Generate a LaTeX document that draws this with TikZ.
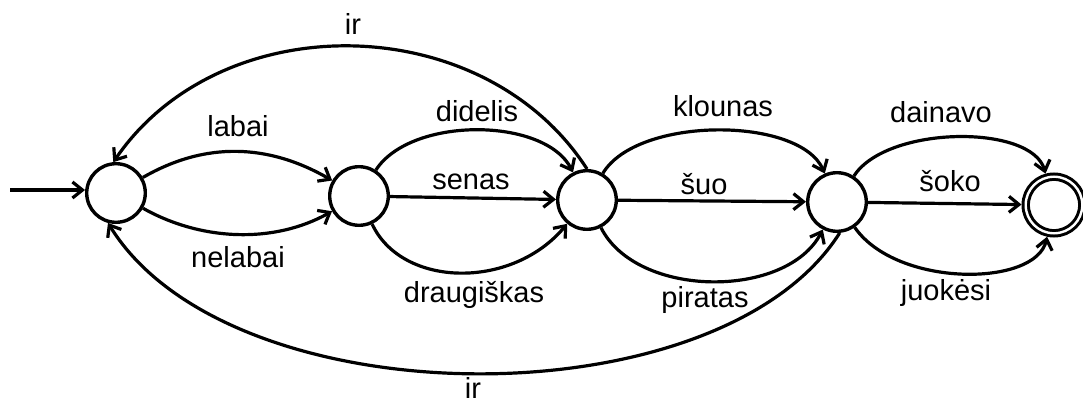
\documentclass[tikz,border=0pt]{standalone}
\usepackage{fontspec}
\setmainfont{Liberation Sans}
\usetikzlibrary{arrows.meta}
\begin{document}
\begin{tikzpicture}[x=1pt,y=-1pt,
  stnode/.style={draw, circle, line width=3.4pt, minimum size=58.6pt, inner sep=0pt},
  finalnode/.style={draw, circle, line width=3pt, double, double distance=2.4pt,
    minimum size=56.6pt, inner sep=0pt, outer sep=4.2pt},
  edge/.style={draw, line width=3.2pt, -{Straight Barb[length=10pt,width=16pt]}},
  lbl/.style={anchor=base, inner sep=0pt, font=\fontsize{29}{32}\selectfont}
]
\useasboundingbox (0,0) rectangle (1083,403);

% states
\node[stnode] (n1) at (116,193) {};
\node[stnode] (n2) at (359,196) {};
\node[stnode] (n3) at (587,200) {};
\node[stnode] (n4) at (837,202) {};
\node[finalnode] (n5) at (1054,205) {};
\coordinate (s) at (10,190);

% initial arrow
\draw[edge] (s) -- (s -| n1.west);

% n1 -> n2
\draw[edge] (n1) .. controls +(90,-52) and +(-90,-52) .. (n2);
\draw[edge] (n1) .. controls +(85,48) and +(-85,48) .. (n2);

% n2 -> n3
\draw[edge] (n2) .. controls +(52,-80) and +(-42,-83) .. (n3);
\draw[edge] (n2) -- (n3);
\draw[edge] (n2) .. controls +(43,92) and +(-75,90) .. (n3);

% n3 -> n4
\draw[edge] (n3) .. controls +(50,-84) and +(-37,-86) .. (n4);
\draw[edge] (n3) -- (n4);
\draw[edge] (n3) .. controls +(50,99) and +(-50,97) .. (n4);

% n4 -> n5
\draw[edge] (n4) .. controls +(50,-77) and +(-22,-81) .. (n5);
\draw[edge] (n4) -- (n5);
\draw[edge] (n4) .. controls +(60,86) and +(-18,82) .. (n5);

% back edges
\draw[edge] (n3.north) .. controls +(-103,-160) and +(108,-158) .. (n1.95);
\draw[edge] (n4.-85) .. controls +(-120,190) and +(122,198) .. (n1.-105);

% labels
\node[lbl] (lir1) at (353,35) {ir};
\node[lbl] (llabai) at (238,137) {labai};
\node[lbl] (lnelabai) at (238,267) {nelabai};
\node[lbl] (ldidelis) at (477,122) {didelis};
\node[lbl] (lsenas) at (471,190) {senas};
\node[lbl] (ldraug) at (474,302) {draugiškas};
\node[lbl] (lklounas) at (723,117) {klounas};
\node[lbl] (lsuo) at (704,195) {šuo};
\node[lbl] (lpiratas) at (705,307) {piratas};
\node[lbl] (ldainavo) at (941,123) {dainavo};
\node[lbl] (lsoko) at (950,192) {šoko};
\node[lbl] (ljuokesi) at (946,300) {juokėsi};
\node[lbl] (lir2) at (473,398) {ir};
\end{tikzpicture}
\end{document}
